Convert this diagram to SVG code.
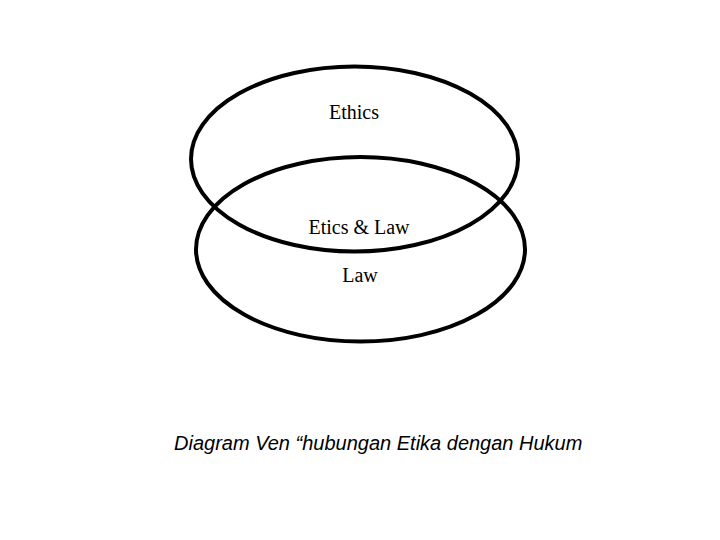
<svg xmlns="http://www.w3.org/2000/svg" width="720" height="540" viewBox="0 0 720 540">
<style>
.ring{fill:none;stroke:#000;stroke-width:4}
.lbl{font-family:"Liberation Serif","Times New Roman",serif;font-size:20px;fill:#000;text-anchor:middle}
.cap{font-family:"Liberation Sans",Arial,sans-serif;font-size:20px;font-style:italic;fill:#000}
</style>
<rect width="720" height="540" fill="#fff"/>
<g id="connectors"></g>
<g id="ethics">
<ellipse class="ring" cx="354.5" cy="159" rx="163.5" ry="92.5"/>
<text class="lbl" x="354" y="119">Ethics</text>
</g>
<g id="law">
<ellipse class="ring" cx="360.5" cy="249.3" rx="164.5" ry="92.3"/>
<text class="lbl" x="360" y="282">Law</text>
</g>
<g id="overlap">
<text class="lbl" x="359" y="234">Etics &amp; Law</text>
</g>
<g id="caption">
<text class="cap" x="174" y="450">Diagram Ven “hubungan Etika dengan Hukum</text>
</g>
</svg>
